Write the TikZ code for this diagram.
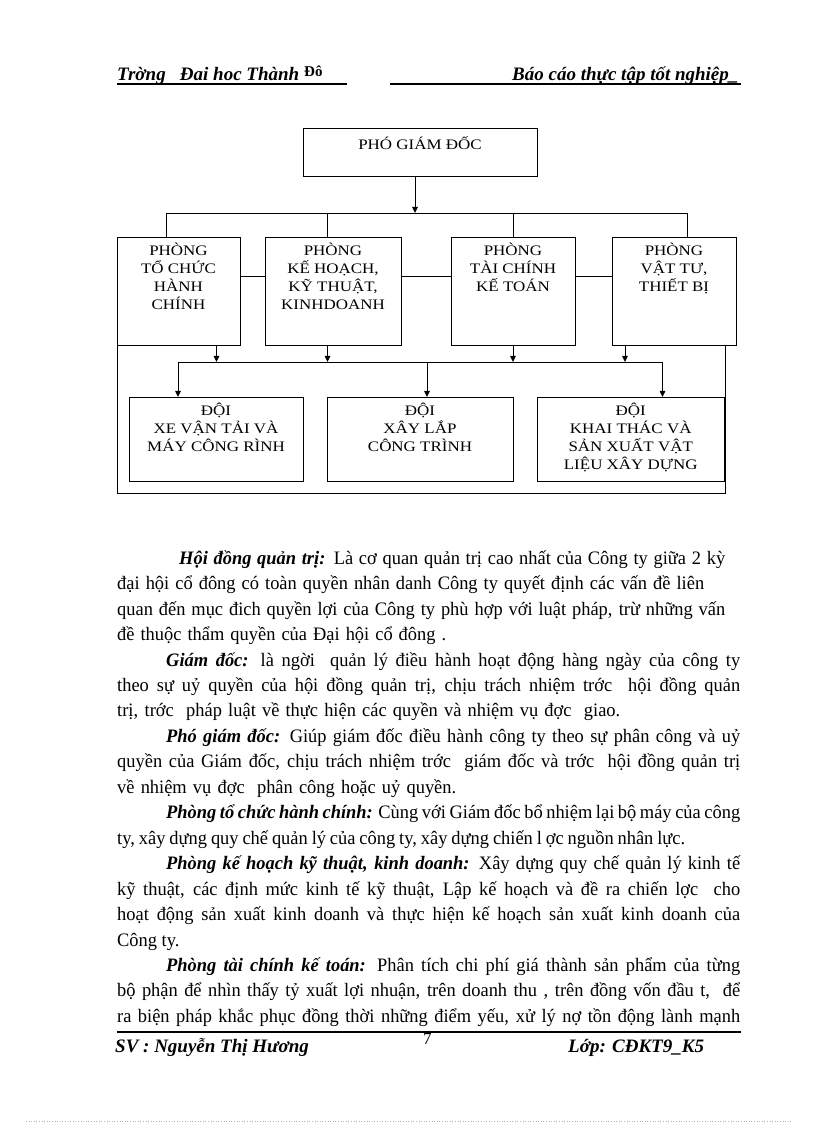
\documentclass[tikz,border=0pt]{standalone}
\usepackage{fontspec}
\setmainfont{Liberation Serif}
\newfontfamily\capsfont[FakeStretch=1.17]{Liberation Serif}
\newfontfamily\bodyfont[FakeStretch=0.97]{Liberation Serif}
\usetikzlibrary{positioning, arrows.meta}

\begin{document}
\begin{tikzpicture}[
  x=1pt, y=1pt,
  box/.style={rectangle, draw, line width=0.9pt, anchor=north west,
              inner sep=0pt, outer sep=0pt},
  lbl/.style={align=center, inner sep=0pt, anchor=north,
              execute at begin node={\rule{0pt}{15pt}},
              font=\capsfont\fontsize{14.5}{18}\selectfont},
  wire/.style={line width=0.9pt},
  arr/.style={wire, -{Triangle[length=6pt, width=5.5pt]}},
  body/.style={anchor=base west, inner sep=0pt,
               font=\bodyfont\fontsize{19}{25}\selectfont},
  head/.style={anchor=base west, inner sep=0pt,
               font=\bfseries\itshape\fontsize{19}{23}\selectfont}
]
  \fill[white] (0,0) rectangle (816,1123);
  \useasboundingbox (0,0) rectangle (816,1123);

  % page header
  \node[head] (hl) at (117,1042) {Trờng\ \ \ Đai hoc Thành};
  \node[anchor=base west, inner sep=0pt, font=\bfseries\fontsize{15}{17}\selectfont]
    (hd) at (304,1046) {Đô};
  \node[head] (hr) at (512,1042) {Báo cáo thực tập tốt nghiệp\_};
  \draw[line width=1.6pt] (117,1039) -- (347,1039);
  \draw[line width=1.6pt] (390,1039) -- (741,1039);

  % chart boxes
  \node[box, minimum width=234, minimum height=48] (pgd) at (303,995) {};
  \node[box, minimum width=123, minimum height=108] (p1) at (117,886) {};
  \node[box, minimum width=136, minimum height=108] (p2) at (265,886) {};
  \node[box, minimum width=124, minimum height=108] (p3) at (451,886) {};
  \node[box, minimum width=124, minimum height=108] (p4) at (612,886) {};
  \node[box, minimum width=174, minimum height=84] (d1) at (129,726) {};
  \node[box, minimum width=186, minimum height=84] (d2) at (327,726) {};
  \node[box, minimum width=186.5, minimum height=84] (d3) at (537.5,726) {};

  \path (pgd.north) ++(0,-6) node[lbl] (tpgd) {PHÓ GIÁM ĐỐC};
  \path (p1.north) ++(0,-6) node[lbl] (tp1) {PHÒNG\\TỔ CHỨC\\HÀNH\\CHÍNH};
  \path (p2.north) ++(0,-6) node[lbl] (tp2) {PHÒNG\\KẾ HOẠCH,\\KỸ THUẬT,\\KINHDOANH};
  \path (p3.north) ++(0,-6) node[lbl] (tp3) {PHÒNG\\TÀI CHÍNH\\KẾ TOÁN};
  \path (p4.north) ++(0,-6) node[lbl] (tp4) {PHÒNG\\VẬT TƯ,\\THIẾT BỊ};
  \path (d1.north) ++(0,-6) node[lbl] (td1) {ĐỘI\\XE VẬN TẢI VÀ\\MÁY CÔNG RÌNH};
  \path (d2.north) ++(0,-6) node[lbl] (td2) {ĐỘI\\XÂY LẮP\\CÔNG TRÌNH};
  \path (d3.north) ++(0,-6) node[lbl] (td3) {ĐỘI\\KHAI THÁC VÀ\\SẢN XUẤT VẬT\\LIỆU XÂY DỰNG};

  % connectors
  \coordinate (busa) at (415,910);
  \coordinate (busb) at (0,761);
  \coordinate (hline) at (0,847);
  \coordinate (fr) at (725,630);
  \draw[arr] (pgd.south -| busa) -- (busa);
  \draw[wire] (166,910) -- (687.5,910);
  \foreach \x/\n in {166/p1, 327.5/p2, 513/p3, 687.5/p4}
    \draw[wire] (\x,910) -- (\n.north -| \x,0);
  \draw[wire] (p1.east |- hline) -- (p2.west |- hline);
  \draw[wire] (p2.east |- hline) -- (p3.west |- hline);
  \draw[wire] (p3.east |- hline) -- (p4.west |- hline);
  \draw[wire] (p1.south west) -- (p1.south west |- fr) -- (fr) -- (fr |- p4.south);
  \foreach \x/\n in {216.5/p1, 327.5/p2, 513/p3, 625/p4}
    \draw[arr] (\n.south -| \x,0) -- (\x,761);
  \draw[wire] (178,761) -- (662.5,761);
  \foreach \x/\n in {178/d1, 427/d2, 662.5/d3}
    \draw[arr] (\x,761) -- (\n.north -| \x,0);

  % body text
  \node[body] (l1) at (179,558.7) {\makebox[546pt][s]{\textbf{\textit{Hội đồng quản trị:}} Là cơ quan quản trị cao nhất của Công ty giữa 2 kỳ}};
  \node[body] (l2) at (117,533.25) {\makebox[587pt][s]{đại hội cổ đông có toàn quyền nhân danh Công ty quyết định các vấn đề liên}};
  \node[body] (l3) at (117,507.8) {\makebox[608pt][s]{quan đến mục đich quyền lợi của Công ty phù hợp với luật pháp, trừ những vấn}};
  \node[body] (l4) at (117,482.35) {\makebox[329pt][s]{đề thuộc thẩm quyền của Đại hội cổ đông .}};
  \node[body] (l5) at (166,456.9) {\makebox[574pt][s]{\textbf{\textit{Giám đốc:}} là ngời\ \ quản lý điều hành hoạt động hàng ngày của công ty}};
  \node[body] (l6) at (117,431.45) {\makebox[623pt][s]{theo sự uỷ quyền của hội đồng quản trị, chịu trách nhiệm trớc\ \ hội đồng quản}};
  \node[body] (l7) at (117,406.0) {\makebox[503pt][s]{trị, trớc\ \ pháp luật về thực hiện các quyền và nhiệm vụ đợc\ \ giao.}};
  \node[body] (l8) at (166,380.55) {\makebox[574pt][s]{\textbf{\textit{Phó giám đốc:}} Giúp giám đốc điều hành công ty theo sự phân công và uỷ}};
  \node[body] (l9) at (117,355.1) {\makebox[623pt][s]{quyền của Giám đốc, chịu trách nhiệm trớc\ \ giám đốc và trớc\ \ hội đồng quản trị}};
  \node[body] (l10) at (117,329.65) {\makebox[339pt][s]{về nhiệm vụ đợc\ \ phân công hoặc uỷ quyền.}};
  \node[body] (l11) at (166,304.2) {\makebox[574pt][s]{\textbf{\textit{Phòng tổ chức hành chính:}} Cùng với Giám đốc bổ nhiệm lại bộ máy của công}};
  \node[body] (l12) at (117,278.75) {\makebox[568pt][s]{ty, xây dựng quy chế quản lý của công ty, xây dựng chiến l ợc nguồn nhân lực.}};
  \node[body] (l13) at (166,253.3) {\makebox[574pt][s]{\textbf{\textit{Phòng kế hoạch kỹ thuật, kinh doanh:}} Xây dựng quy chế quản lý kinh tế}};
  \node[body] (l14) at (117,227.85) {\makebox[623pt][s]{kỹ thuật, các định mức kinh tế kỹ thuật, Lập kế hoạch và đề ra\ chiến lợc\ \ cho}};
  \node[body] (l15) at (117,202.4) {\makebox[623pt][s]{hoạt động sản xuất kinh doanh và thực hiện kế hoạch sản xuất kinh doanh của}};
  \node[body] (l16) at (117,176.95) {Công ty.};
  \node[body] (l17) at (166,151.5) {\makebox[574pt][s]{\textbf{\textit{Phòng tài chính kế toán:}} Phân tích chi phí giá thành sản phẩm của từng}};
  \node[body] (l18) at (117,126.05) {\makebox[623pt][s]{bộ phận để nhìn thấy tỷ xuất\ lợi nhuận, trên doanh thu , trên đồng vốn đầu t,\ \ để}};
  \node[body] (l19) at (117,100.6) {\makebox[623pt][s]{ra biện pháp khắc phục đồng thời những điểm yếu, xử lý nợ tồn động lành mạnh}};

  % page footer
  \draw[line width=1.5pt] (117,91) -- (741,91);
  \draw[line width=2.5pt] (117,91) -- (233,91);
  \node[head] (fl) at (115,70) {SV : Nguyễn Thị Hương};
  \node[body, font=\fontsize{17}{20}\selectfont] (fp) at (423,78) {7};
  \node[head] (fr2) at (568,70) {Lớp: CĐKT9\_K5};
  \draw[gray!60, dotted, line width=0.6pt] (26,2) -- (793,2);
\end{tikzpicture}
\end{document}
